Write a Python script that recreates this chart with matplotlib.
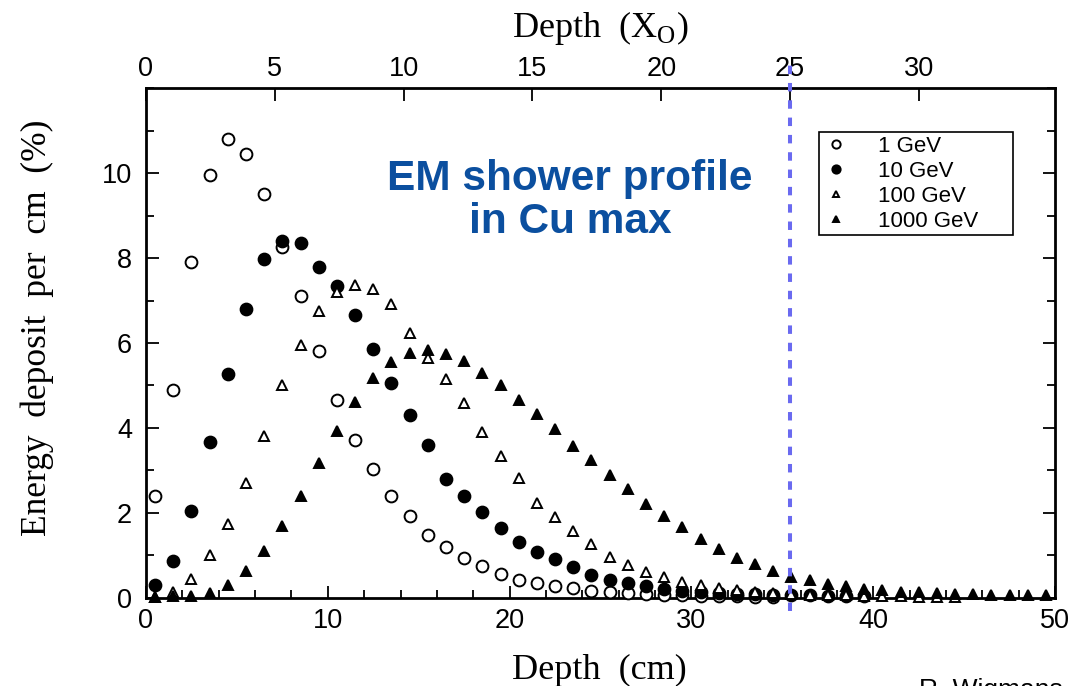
import numpy as np
import matplotlib
matplotlib.use("Agg")
import matplotlib.pyplot as plt
from matplotlib.ticker import MultipleLocator

# energy deposit per cm (%) at depth bin centres 0.5, 1.5, ... cm
e1_gev = [2.4, 4.9, 7.9, 9.95, 10.8, 10.45, 9.5, 8.27, 7.1, 5.8, 4.66, 3.71, 3.04, 2.4,
          1.94, 1.48, 1.19, 0.93, 0.75, 0.57, 0.43, 0.36, 0.28, 0.23, 0.17, 0.14, 0.11,
          0.09, 0.07, 0.06, 0.05, 0.04, 0.04, 0.03, 0.03]
e10_gev = [0.3, 0.87, 2.05, 3.66, 5.28, 6.81, 7.98, 8.39, 8.36, 7.8, 7.35, 6.67, 5.87,
           5.06, 4.31, 3.6, 2.79, 2.4, 2.02, 1.65, 1.31, 1.08, 0.91, 0.74, 0.54, 0.42,
           0.35, 0.28, 0.22, 0.17, 0.15, 0.12, 0.1, 0.09, 0.08, 0.07, 0.06, 0.05, 0.05, 0.04]
e100_gev = [0.03, 0.15, 0.45, 1.0, 1.75, 2.7, 3.8, 5.0, 5.95, 6.75, 7.2, 7.36, 7.28, 6.91,
            6.23, 5.65, 5.15, 4.58, 3.91, 3.34, 2.82, 2.23, 1.9, 1.58, 1.27, 0.97, 0.78,
            0.62, 0.49, 0.38, 0.31, 0.23, 0.19, 0.15, 0.12, 0.1, 0.08, 0.07, 0.06, 0.05,
            0.04, 0.04, 0.03, 0.03, 0.03]
e1000_gev = [0.03, 0.04, 0.05, 0.12, 0.31, 0.63, 1.1, 1.7, 2.39, 3.17, 3.92, 4.6, 5.17,
             5.55, 5.76, 5.83, 5.73, 5.57, 5.3, 5.02, 4.66, 4.33, 3.97, 3.58, 3.24, 2.9,
             2.57, 2.2, 1.93, 1.67, 1.38, 1.15, 0.95, 0.79, 0.63, 0.49, 0.42, 0.34, 0.28,
             0.22, 0.19, 0.15, 0.13, 0.11, 0.1, 0.09, 0.08, 0.07, 0.07, 0.06]

labels = ["1 GeV", "10 GeV", "100 GeV", "1000 GeV"]
X0_CM = 1.417      # radiation length of copper, cm
MAX_X0 = 25        # dashed marker position in X0

serif = "Liberation Serif"
sans = "Liberation Sans"

fig = plt.figure(figsize=(10.86, 6.86), dpi=100)
ax = fig.add_axes([0.1344, 0.1283, 0.8371, 0.7434])

series = [e1_gev, e10_gev, e100_gev, e1000_gev]
styles = [dict(marker="o", mfc="white", ms=8.5),
          dict(marker="o", mfc="black", ms=8.5),
          dict(marker="^", mfc="white", ms=6.5),
          dict(marker="^", mfc="black", ms=6.5)]
for vals, st, lab in zip(series, styles, labels):
    x = np.arange(len(vals)) + 0.5
    ax.plot(x, vals, ls="none", mec="black", mew=1.4, label=lab,
            clip_on=False, zorder=3, **st)

ax.set_xlim(0, 50)
ax.set_ylim(0, 12)
ax.xaxis.set_major_locator(MultipleLocator(10))
ax.xaxis.set_minor_locator(MultipleLocator(2))
ax.yaxis.set_minor_locator(MultipleLocator(1))
ax.set_yticks(range(0, 11, 2))
ax.tick_params(which="both", direction="in", right=True, width=1.3)
ax.tick_params(which="major", length=9, labelsize=19.5)
ax.tick_params(axis="x", which="major", pad=7)
ax.tick_params(axis="y", which="major", pad=10)
ax.tick_params(which="minor", length=6)
for lbl in ax.get_xticklabels() + ax.get_yticklabels():
    lbl.set_fontfamily(sans)
for sp in ax.spines.values():
    sp.set_linewidth(2)

ax.set_xlabel("Depth  (cm)", fontsize=26, family=serif, va="center")
ax.xaxis.set_label_coords(0.499, -0.142)
ax.set_ylabel("Energy  deposit  per  cm  (%)", fontsize=25.5, family=serif, va="center")
ax.yaxis.set_label_coords(-0.12, 0.53)

top = ax.secondary_xaxis("top", functions=(lambda c: c / X0_CM, lambda t: t * X0_CM))
top.set_xticks(range(0, 31, 5))
top.tick_params(direction="in", length=9, width=1.3, labelsize=19.5, pad=4)
for lbl in top.get_xticklabels():
    lbl.set_fontfamily(sans)
top.set_xlabel(r"Depth  (X$_\mathregular{O}$)", fontsize=26, family=serif, labelpad=14)

xmax = MAX_X0 * X0_CM
ax.plot([xmax, xmax], [-0.3, 12.62], color="#6a6af0", lw=2.9, dashes=(2.1, 2.2),
        clip_on=False, zorder=5)

ax.text(0.4664, 0.78, "EM shower profile\nin Cu max", transform=ax.transAxes,
        ha="center", va="center", fontsize=30.5, fontweight="bold", family=sans,
        color="#0b4f9f", linespacing=1.1)

leg = ax.legend(loc="upper left", bbox_to_anchor=(0.7404, 0.5, 0.2134, 0.413),
                mode="expand", fancybox=False, edgecolor="black", framealpha=1,
                prop={"family": sans, "size": 16}, handlelength=1.22, handletextpad=1.28,
                borderpad=0.16, labelspacing=0.18, markerscale=0.7, borderaxespad=0)
leg.get_frame().set_linewidth(1.2)

fig.text(0.846, 0.012, "R. Wigmans", ha="left", va="top", fontsize=19, family=sans)

fig.savefig("out.png", dpi=100)
